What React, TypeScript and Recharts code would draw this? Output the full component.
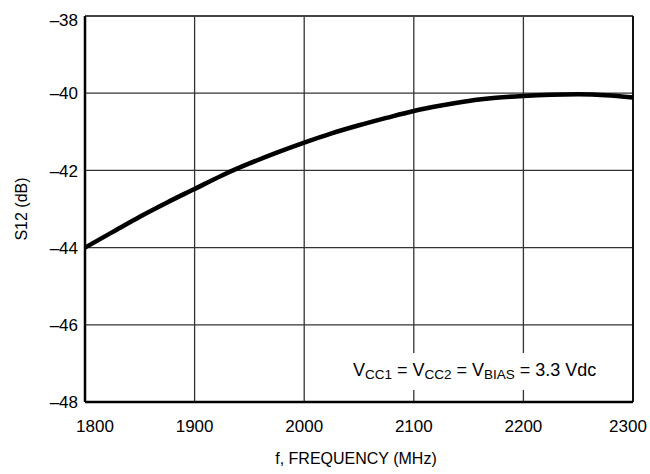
import React from 'react';
import { LineChart, Line, XAxis, YAxis, CartesianGrid, ReferenceLine, ReferenceArea, Label } from 'recharts';

const frequencies = [1800, 1825, 1850, 1875, 1900, 1925, 1950, 1975, 2000, 2025, 2050, 2075, 2100, 2125, 2150, 2175, 2200, 2225, 2250, 2275, 2300];
const s12Values = [-44.0, -43.6, -43.2, -42.83, -42.48, -42.13, -41.82, -41.54, -41.28, -41.04, -40.83, -40.64, -40.46, -40.32, -40.2, -40.12, -40.07, -40.04, -40.03, -40.05, -40.11];
const xTicks = [1800, 1900, 2000, 2100, 2200, 2300];
const yTicks = [-48, -46, -44, -42, -40, -38];
const xTitle = 'f, FREQUENCY (MHz)';
const yTitle = 'S12 (dB)';

const data = frequencies.map((f, i) => ({ f, s12: s12Values[i] }));

const FONT = '"Liberation Sans", Arial, Helvetica, sans-serif';

const fmt = (v: number) => String(v).replace('-', '\u2013');

const XTick = (props: any) => {
  const { x, y, payload, index } = props;
  const dx = index === 0 ? 10 : index === xTicks.length - 1 ? -5 : 0;
  return (
    <text x={x + dx} y={y} dy="0.71em" textAnchor="middle" fontSize={17} fontFamily={FONT} fill="#000">
      {payload.value}
    </text>
  );
};

const YTick = (props: any) => {
  const { x, y, payload, index } = props;
  const dy = index === yTicks.length - 1 ? 4 : 0;
  return (
    <text x={x} y={y + dy} dy="0.36em" textAnchor="end" fontSize={17} fontFamily={FONT} fill="#000">
      {fmt(payload.value)}
    </text>
  );
};

const AnnotationLabel = (props: any) => {
  const vb = props.viewBox;
  const cx = vb.x + vb.width / 2;
  const y = vb.y + 23;
  const sub = { fontSize: 13.5 };
  return (
    <text x={cx} y={y} textAnchor="middle" fontSize={18} fontFamily={FONT} fill="#000">
      <tspan>V</tspan>
      <tspan {...sub} dy={3}>CC1</tspan>
      <tspan dy={-3}> = V</tspan>
      <tspan {...sub} dy={3}>CC2</tspan>
      <tspan dy={-3}> = V</tspan>
      <tspan {...sub} dy={3}>BIAS</tspan>
      <tspan dy={-3}> = 3.3 Vdc</tspan>
    </text>
  );
};

export default function App() {
  return (
    <div style={{ position: 'absolute', left: 0, top: 0, width: 650, height: 474, background: '#fff' }}>
      <LineChart width={650} height={474} data={data} margin={{ top: 16, right: 17, left: 0, bottom: 0 }}>
        <CartesianGrid stroke="#333" strokeWidth={1.3} horizontalValues={yTicks} verticalValues={xTicks} />
        <XAxis
          dataKey="f"
          type="number"
          domain={[1800, 2300]}
          ticks={xTicks}
          height={72}
          tickLine={false}
          tickSize={0}
          tickMargin={18}
          axisLine={{ stroke: '#000', strokeWidth: 2.5 }}
          tick={<XTick />}
          interval={0}
        >
          <Label
            content={(p: any) => {
              const vb = p.viewBox;
              return (
                <text x={vb.x + vb.width / 2 - 3} y={vb.y + 62} textAnchor="middle" fontSize={16} fontFamily={FONT} fill="#000">
                  {xTitle}
                </text>
              );
            }}
          />
        </XAxis>
        <YAxis
          type="number"
          domain={[-48, -38]}
          ticks={yTicks}
          width={85}
          tickLine={false}
          tickSize={0}
          tickMargin={7}
          axisLine={{ stroke: '#000', strokeWidth: 2.5 }}
          tick={<YTick />}
          interval={0}
        >
          <Label
            content={(p: any) => {
              const vb = p.viewBox;
              const cx = vb.x + 21;
              const cy = vb.y + vb.height / 2;
              return (
                <text x={cx} y={cy} transform={`rotate(-90 ${cx} ${cy})`} textAnchor="middle" dominantBaseline="central" fontSize={16} fontFamily={FONT} fill="#000">
                  {yTitle}
                </text>
              );
            }}
          />
        </YAxis>
        <ReferenceLine y={-38} stroke="#444" strokeWidth={2} />
        <ReferenceLine x={2300} stroke="#111" strokeWidth={2} />
        <ReferenceArea x1={2037} x2={2274} y1={-47.69} y2={-46.73} fill="#fff" fillOpacity={1} stroke="none" label={<AnnotationLabel />} />
        <Line type="monotone" dataKey="s12" stroke="#000" strokeWidth={4.5} dot={false} isAnimationActive={false} />
      </LineChart>
    </div>
  );
}
